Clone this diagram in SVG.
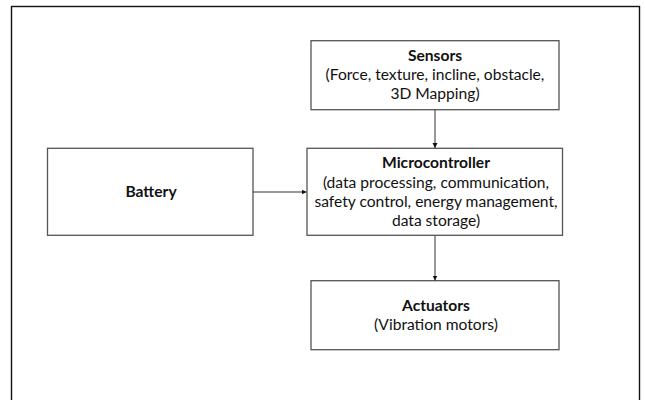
<svg xmlns="http://www.w3.org/2000/svg" width="645" height="400" viewBox="0 0 645 400">
<defs>
<style>
.box{fill:#fff;stroke:#555;stroke-width:1.3}
.t{font-family:Lato,"Open Sans","Liberation Sans",sans-serif;font-size:15.6px;fill:#111;text-anchor:middle}
.b{font-weight:bold}
.c{stroke:#333;stroke-width:1;fill:none}
</style>
<marker id="ah" markerWidth="6" markerHeight="6" refX="5" refY="3" orient="auto" markerUnits="userSpaceOnUse">
<path d="M0,0.5 L5,3 L0,5.5 Z" fill="#111"/>
</marker>
</defs>
<rect width="645" height="400" fill="#fff"/>
<rect x="11.5" y="6.5" width="628" height="400" fill="none" stroke="#111" stroke-width="1.4"/>
<g id="sensors">
<rect class="box" x="311" y="40.7" width="248" height="69"/>
<text class="t b" x="435" y="61">Sensors</text>
<text class="t" x="435" y="80">(Force, texture, incline, obstacle,</text>
<text class="t" x="435" y="99">3D Mapping)</text>
</g>
<g id="battery">
<rect class="box" x="47.5" y="148.3" width="205.5" height="87"/>
<text class="t b" x="151" y="197">Battery</text>
</g>
<g id="microcontroller">
<rect class="box" x="307" y="148.3" width="255.5" height="87"/>
<text class="t b" x="436" y="168">Microcontroller</text>
<text class="t" x="436" y="188">(data processing, communication,</text>
<text class="t" x="436" y="207">safety control, energy management,</text>
<text class="t" x="436" y="226">data storage)</text>
</g>
<g id="actuators">
<rect class="box" x="311" y="280.7" width="248" height="69"/>
<text class="t b" x="436" y="311">Actuators</text>
<text class="t" x="436" y="330">(Vibration motors)</text>
</g>
<g id="connectors">
<line class="c" x1="435" y1="110" x2="435" y2="148" marker-end="url(#ah)"/>
<line class="c" x1="253" y1="192" x2="306.5" y2="192" marker-end="url(#ah)"/>
<line class="c" x1="435" y1="235.5" x2="435" y2="280.5" marker-end="url(#ah)"/>
</g>
</svg>
